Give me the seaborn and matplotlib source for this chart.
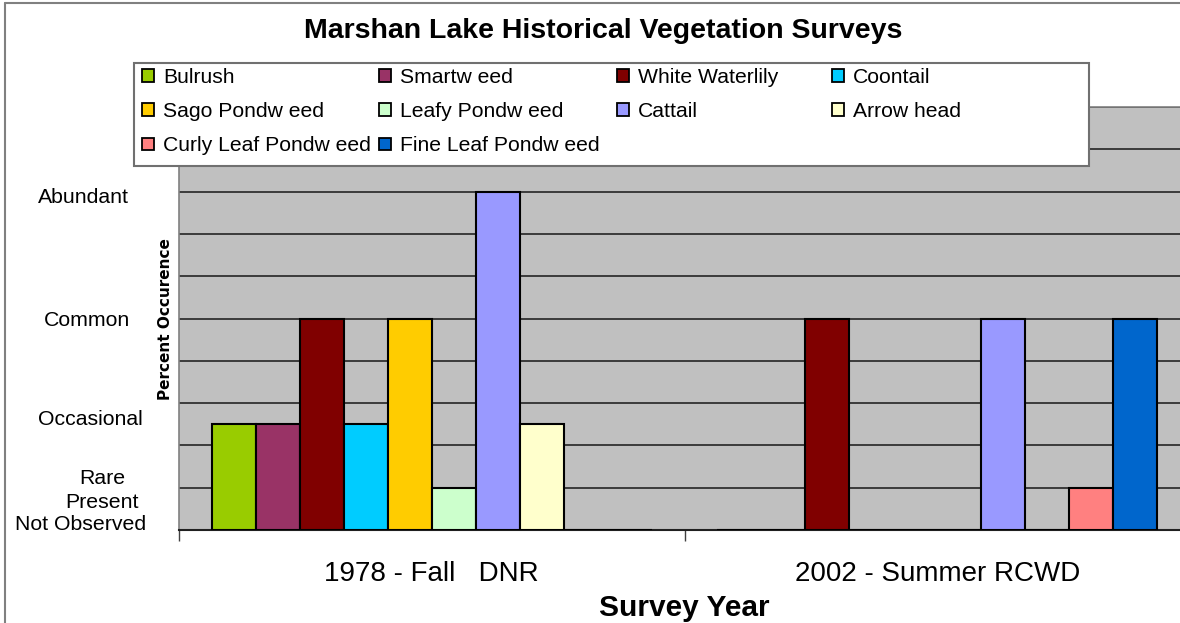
import pandas as pd
import matplotlib.pyplot as plt
import seaborn as sns
from matplotlib.patches import Patch
from matplotlib.lines import Line2D

# data
surveys = ["1978 - Fall   DNR", "2002 - Summer RCWD"]
species = ["Bulrush", "Smartw eed", "White Waterlily", "Coontail",
           "Sago Pondw eed", "Leafy Pondw eed", "Cattail", "Arrow head",
           "Curly Leaf Pondw eed", "Fine Leaf Pondw eed"]
colors = ["#99CC00", "#993366", "#800000", "#00CCFF", "#FFCC00",
          "#CCFFCC", "#9999FF", "#FFFFCC", "#FF8080", "#0066CC"]
levels_1978 = [2.5, 2.5, 5, 2.5, 5, 1, 8, 2.5, 0, 0]
levels_2002 = [0, 0, 5, 0, 0, 0, 5, 0, 1, 5]

# category labels on the left (label, y position in data units, x centre in px)
level_names = ["Abundant", "Common", "Occasional", "Rare", "Present", "Not Observed"]
level_pos = [7.87, 4.95, 2.62, 1.21, 0.66, 0.12]
level_xpx = [83, 87, 90, 102, 102, 81]

df = pd.DataFrame({
    "survey": [surveys[0]] * len(species) + [surveys[1]] * len(species),
    "species": species * 2,
    "level": levels_1978 + levels_2002,
})

sns.set_theme(style="white")
plt.rcParams['font.family'] = ['Liberation Sans', 'DejaVu Sans']
plt.rcParams['text.color'] = 'black'
plt.rcParams['axes.labelcolor'] = 'black'
plt.rcParams['xtick.color'] = 'black'
plt.rcParams['ytick.color'] = 'black'

W, H = 1180, 623
fig = plt.figure(figsize=(W / 100, H / 100), dpi=100)
# plot area runs a little past the right edge of the image, as in the reference
ax = fig.add_axes([179 / W, 1 - 530 / H, (1190 - 179) / W, (530 - 107) / H])

sns.barplot(data=df, x="survey", y="level", hue="species", hue_order=species,
            palette=colors, saturation=1, width=0.87, edgecolor="black",
            linewidth=1.5, errorbar=None, legend=False, ax=ax, zorder=3)

ax.set_facecolor("#C0C0C0")
ax.set_xlim(-0.5, 1.5)
ax.set_ylim(0, 10)
ax.set_yticks(range(0, 11))
ax.set_yticklabels([])
ax.tick_params(axis="y", length=0)
ax.grid(axis="y", color="#303030", linewidth=1.3, zorder=0)
ax.set_axisbelow(True)

ax.set_xticks([0, 1])
ax.set_xticklabels(surveys, fontsize=20)
ax.set_xticks([-0.5, 0.5, 1.5], minor=True)
ax.tick_params(axis="x", which="major", length=0, pad=22)
ax.tick_params(axis="x", which="minor", length=8, width=1, color="#404040",
               bottom=True, direction="out")
ax.set_xlabel("Survey Year", fontsize=21.5, fontweight="bold", labelpad=5)
ax.set_ylabel("")

for side in ["left", "top"]:
    ax.spines[side].set_color("#808080")
    ax.spines[side].set_linewidth(1.2)
ax.spines["bottom"].set_color("#202020")
ax.spines["bottom"].set_linewidth(1.5)
ax.spines["right"].set_visible(False)

for name, y, xpx in zip(level_names, level_pos, level_xpx):
    ax.text((xpx - 179) / (1190 - 179), y, name, transform=ax.get_yaxis_transform(),
            ha="center", va="center", fontsize=15.3)

fig.text(165 / W, 1 - 319 / H, "Percent Occurence", rotation=90, ha="center",
         va="center", fontsize=11, fontweight="bold", family=["DejaVu Sans"])

fig.text(603 / W, 1 - 31 / H, "Marshan Lake Historical Vegetation Surveys",
         ha="center", va="center", fontsize=20.5, fontweight="bold")

# outer frame lines of the chart
fig.add_artist(Line2D([5 / W, 1], [1 - 3 / H, 1 - 3 / H], color="#808080", lw=1.5))
fig.add_artist(Line2D([5 / W, 5 / W], [0, 1 - 3 / H], color="#808080", lw=1.5))

# legend box
fig.add_artist(plt.Rectangle((134 / W, 1 - 166 / H), (1089 - 134) / W, (166 - 63) / H,
                             transform=fig.transFigure, facecolor="white",
                             edgecolor="#707070", lw=1.5, zorder=5))

handles = [Patch(facecolor=c, edgecolor="black", lw=1.3) for c in colors]
columns = [[0, 4, 8], [1, 5, 9], [2, 6], [3, 7]]
col_x = [142, 379, 617, 832]
for idx, xpx in zip(columns, col_x):
    leg = fig.legend([handles[i] for i in idx], [species[i] for i in idx],
                     loc="upper left", bbox_to_anchor=(xpx / W, 1 - 68 / H),
                     frameon=False, borderpad=0, borderaxespad=0,
                     handlelength=0.55, handleheight=0.55, handletextpad=0.45,
                     labelspacing=0.72, fontsize=15.2)
    leg.set_zorder(6)

fig.savefig("out.png", dpi=100)
